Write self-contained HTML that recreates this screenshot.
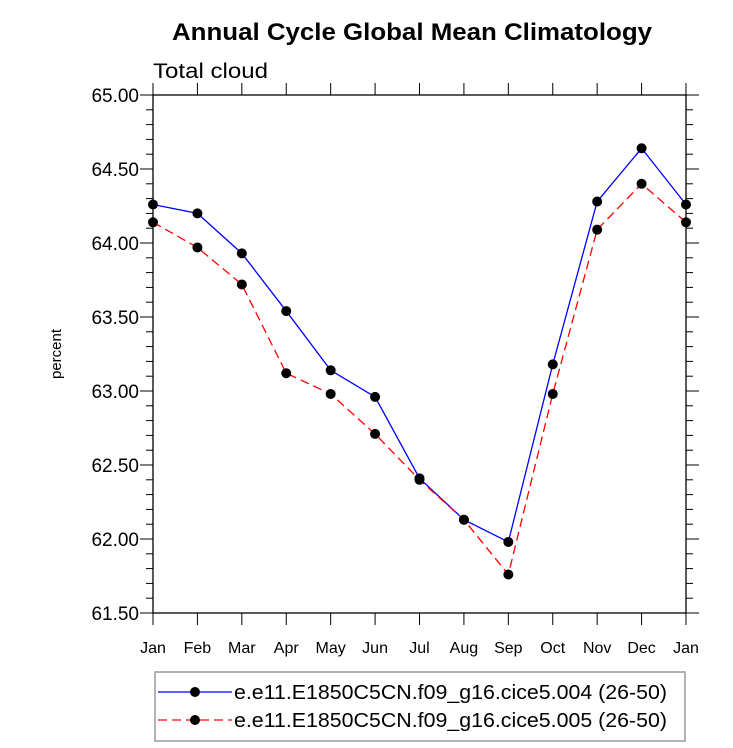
<!DOCTYPE html>
<html><head><meta charset="utf-8"><style>
body{margin:0;background:#fff;}
svg{display:block;font-family:"Liberation Sans",sans-serif;}
</style></head><body>
<svg id="chart" width="733" height="748">
<text x="172" y="40" textLength="480" lengthAdjust="spacingAndGlyphs" font-size="24" font-weight="bold">Annual Cycle Global Mean Climatology</text>
<text x="153" y="78" textLength="115" lengthAdjust="spacingAndGlyphs" font-size="21">Total cloud</text>
<text transform="translate(61,354) rotate(-90)" text-anchor="middle" font-size="15">percent</text>
<g id="axes"></g>
<g id="series"></g>
<rect x="155" y="672" width="530" height="69" fill="none" stroke="#999" stroke-width="1.5"/>
<g>
<line x1="158" y1="692" x2="232" y2="692" stroke="#00f" stroke-width="1.3"/>
<circle cx="195" cy="692" r="5" fill="#000"/>
<text x="234" y="699" font-size="20" textLength="433" lengthAdjust="spacingAndGlyphs">e.e11.E1850C5CN.f09_g16.cice5.004 (26-50)</text>
</g>
<g>
<line x1="158" y1="720" x2="232" y2="720" stroke="#f00" stroke-width="1.3" stroke-dasharray="9,5"/>
<circle cx="195" cy="720" r="5" fill="#000"/>
<text x="234" y="727" font-size="20" textLength="433" lengthAdjust="spacingAndGlyphs">e.e11.E1850C5CN.f09_g16.cice5.005 (26-50)</text>
</g>
</svg>
<script>
const months = ["Jan","Feb","Mar","Apr","May","Jun","Jul","Aug","Sep","Oct","Nov","Dec","Jan"];
const series004 = [64.26,64.20,63.93,63.54,63.14,62.96,62.41,62.13,61.98,63.18,64.28,64.64,64.26];
const series005 = [64.14,63.97,63.72,63.12,62.98,62.71,62.40,62.13,61.76,62.98,64.09,64.40,64.14];
const yTicks = [61.5,62.0,62.5,63.0,63.5,64.0,64.5,65.0];
const yTickLabels = ["61.50","62.00","62.50","63.00","63.50","64.00","64.50","65.00"];

const X0=153,X1=686,Y0=95,Y1=613,YMIN=61.5,YMAX=65.0;
const xs = i => X0 + i*(X1-X0)/(months.length-1);
const ys = v => Y1 - (v-YMIN)/(YMAX-YMIN)*(Y1-Y0);
const NS="http://www.w3.org/2000/svg";
function mk(tag, attrs, parent){const e=document.createElementNS(NS,tag);for(const k in attrs)e.setAttribute(k,attrs[k]);parent.appendChild(e);return e;}
const axes=document.getElementById('axes');
const frame=mk('rect',{x:X0,y:Y0,width:X1-X0,height:Y1-Y0,fill:'none',stroke:'#000','stroke-width':1.3},axes);


for(let v=YMIN; v<=YMAX+1e-6; v+=0.1){
  const y=ys(v); const major=Math.abs((v*2)-Math.round(v*2))<1e-6; const L=major?13:7;
  mk('line',{x1:X0-L,y1:y,x2:X0,y2:y,stroke:'#000','stroke-width':1},axes);
  mk('line',{x1:X1,y1:y,x2:X1+L,y2:y,stroke:'#000','stroke-width':1},axes);
}
yTicks.forEach((v,i)=>{
  const t=mk('text',{x:X0-14,y:ys(v)+7,'text-anchor':'end','font-size':19},axes);
  t.textContent=yTickLabels[i];
  
  
});
months.forEach((m,i)=>{
  const x=xs(i);
  mk('line',{x1:x,y1:Y1,x2:x,y2:Y1+12,stroke:'#000','stroke-width':1},axes);
  mk('line',{x1:x,y1:Y0-12,x2:x,y2:Y0,stroke:'#000','stroke-width':1},axes);
  const t=mk('text',{x:x,y:653,'text-anchor':'middle','font-size':16},axes);
  t.textContent=m;
  
  
});
const sg=document.getElementById('series');
function draw(vals,color,dash,name){
  const g=mk('g',{},sg);
  
  
  const pts=vals.map((v,i)=>xs(i)+','+ys(v)).join(' ');
  const a={points:pts,fill:'none',stroke:color,'stroke-width':1.3};
  if(dash)a['stroke-dasharray']=dash;
  mk('polyline',a,g);
  vals.forEach((v,i)=>{
    const c=mk('circle',{cx:xs(i),cy:ys(v),r:5,fill:'#000'},g);
    
    
  });
}
draw(series004,'#00f',null,'series-004');
draw(series005,'#f00','9,5','series-005');
</script>
</body></html>
